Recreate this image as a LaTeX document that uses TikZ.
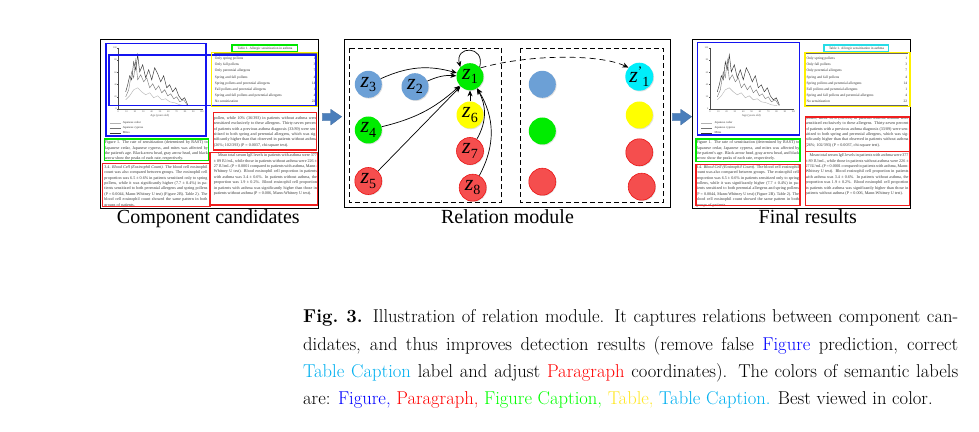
\documentclass[tikz,border=0pt]{standalone}
\usepackage{fontspec}
\usetikzlibrary{arrows.meta,shadows}
\newfontfamily\tnr{Liberation Serif}
\definecolor{nblue}{RGB}{108,160,214}
\definecolor{ngreen}{RGB}{0,236,0}
\definecolor{nred}{RGB}{245,78,78}
\definecolor{nredline}{RGB}{235,20,20}
\definecolor{nyellow}{RGB}{255,255,0}
\definecolor{ncyan}{RGB}{0,238,250}
\definecolor{arrowblue}{RGB}{74,126,187}
\definecolor{capblue}{RGB}{0,0,255}
\definecolor{capred}{RGB}{255,0,0}
\definecolor{capgreen}{RGB}{0,255,0}
\definecolor{capyellow}{RGB}{255,232,40}
\definecolor{capcyan}{RGB}{0,176,240}
\definecolor{boxblue}{RGB}{20,20,240}
\definecolor{boxgreen}{RGB}{0,230,0}
\definecolor{boxyellow}{RGB}{255,240,0}
\definecolor{boxred}{RGB}{240,30,30}
\definecolor{boxcyan}{RGB}{40,220,230}
\tikzset{
  cand/.style={circle, minimum size=27pt, inner sep=0pt, font=\tnr\fontsize{22}{22}\selectfont,
    drop shadow={shadow xshift=0.8pt, shadow yshift=-0.8pt, opacity=0.25}},
  nb/.style={cand, fill=nblue},
  ng/.style={cand, fill=ngreen},
  nr/.style={cand, fill=nred, draw=nredline, line width=0.6pt},
  ny/.style={cand, fill=nyellow},
  nc/.style={cand, fill=ncyan},
  rel/.style={-{Stealth[length=6pt,width=5pt]}, line width=0.7pt, black},
  modbox/.style={dash pattern=on 5pt off 3pt, line width=0.8pt},
  pageframe/.style={line width=1pt, black},
  detbox/.style={line width=1.4pt},
  axisline/.style={line width=0.3pt, black!70},
  ticklab/.style={inner sep=0pt, font=\tnr\fontsize{2.4}{2.4}\selectfont, text=black!70},
  tinytext/.style={inner sep=0pt, font=\tnr\fontsize{3.6}{4.3}\selectfont, text=black!80},
  para/.style={inner sep=0pt, anchor=north west, text width=103pt, align=justify,
    font=\tnr\fontsize{4.1}{5.4}\selectfont, text=black!78},
  plotA/.style={line width=0.45pt, black!80},
  plotB/.style={line width=0.4pt, black!55},
  plotC/.style={line width=0.4pt, black!30},
  panellabel/.style={anchor=base, inner sep=0pt, font=\tnr\fontsize{20}{20}\selectfont},
  capline/.style={anchor=base west, inner sep=0pt, font=\fontsize{18.6}{27}\selectfont},
  blockarrow/.style={fill=arrowblue, draw=arrowblue!85!black, line width=0.3pt}
}
\newcommand\zl[1]{\textit{z}\raisebox{-4.5pt}{\fontsize{14}{14}\selectfont #1}}
\newcommand\zlp[1]{\textit{z}\raisebox{6.5pt}{\fontsize{13}{13}\selectfont\textquoteright}\raisebox{-4.5pt}{\fontsize{14}{14}\selectfont #1}}
\newcommand\docpage[1]{%
\begin{scope}
\clip (0,0) rectangle (218,-168.5);
\draw[axisline] (17.6,-8) -- (17.6,-69.3) -- (101,-69.3);
\foreach \i in {0,...,10}{
  \draw[axisline] ({17.6+8.34*\i},-69.3) -- ++(0,-0.9);
  \pgfmathtruncatemacro\lab{10*\i}
  \node[ticklab, anchor=north] (#1-xt\i) at ({17.6+8.34*\i},-70.6) {\lab};
}
\foreach \i in {0,...,5}{
  \draw[axisline] (17.6,{-69.3+12.26*\i}) -- ++(-0.9,0);
  \pgfmathtruncatemacro\lab{20*\i}
  \node[ticklab, anchor=east] (#1-yt\i) at (16.2,{-69.3+12.26*\i}) {\lab};
}
\node[ticklab, font=\tnr\fontsize{3}{3}\selectfont, anchor=north] (#1-age) at (59,-74.5) {Age (years old)};
\draw[plotA] plot coordinates {(25,-52) (27,-45) (29,-36) (31,-40) (33,-22) (35,-30) (37,-15) (39,-32) (42,-25) (45,-38) (48,-30) (51,-40) (54,-28) (57,-34) (60,-42) (63,-36) (66,-48) (69,-45) (72,-52) (75,-48) (78,-56) (81,-60) (84,-58) (87,-65)};
\draw[plotB] plot coordinates {(25,-57) (28,-50) (31,-32) (33,-38) (35,-20) (37,-40) (40,-35) (43,-42) (46,-38) (49,-48) (52,-44) (55,-50) (58,-46) (61,-53) (64,-50) (67,-56) (70,-54) (73,-59) (76,-57) (79,-62) (83,-60) (87,-66)};
\draw[plotC] plot coordinates {(25,-60) (29,-56) (33,-50) (37,-48) (41,-52) (45,-55) (49,-53) (53,-58) (57,-56) (61,-60) (65,-59) (69,-62) (74,-63) (79,-65) (85,-66)};
\draw[plotC] (9,-83) -- (20,-83);
\node[tinytext, anchor=west, font=\tnr\fontsize{3}{3}\selectfont] (#1-l1) at (22,-83) {Japanese cedar};
\draw[plotB] (9,-88) -- (20,-88);
\node[tinytext, anchor=west, font=\tnr\fontsize{3}{3}\selectfont] (#1-l2) at (22,-88) {Japanese cypress};
\draw[plotA] (9,-93) -- (20,-93);
\node[tinytext, anchor=west, font=\tnr\fontsize{3}{3}\selectfont] (#1-l3) at (22,-93) {Mites};
\node[tinytext, font=\tnr\fontsize{3.4}{3.4}\selectfont] (#1-tt) at (164.3,-8.7) {Table 1. Allergic sensitization in asthma};
\draw[line width=0.3pt, black!60] (113,-13.5) -- (216,-13.5);
\draw[line width=0.3pt, black!60] (113,-65.5) -- (216,-65.5);
\foreach \t/\n [count=\k] in {Only spring pollens/1, Only fall pollens/3, Only perennial allergens/7,
   Spring and fall pollens/4, Spring pollens and perennial allergens/14, Fall pollens and perennial allergens/1,
   Spring and fall pollens and perennial allergens/4, No sensitization/22}{
  \node[tinytext, anchor=base west] (#1-r\k) at (114,{-19.8-6.2*(\k-1)}) {\t};
  \node[tinytext, anchor=base east] (#1-n\k) at (215,{-19.8-6.2*(\k-1)}) {\n};
}
\node[para] (#1-fc) at (4,-100.8) {Figure 1. The rate of sensitization (determined by RAST) to Japanese cedar, Japanese cypress, and mites was affected by the patient's age. Black arrow head, gray arrow head, and black arrow show the peaks of each rate, respectively.};
\node[para] (#1-pl) at (3.5,-125.5) {3.4. \textit{Blood Cell (Eosinophil Count).} The blood cell eosinophil count was also compared between groups. The eosinophil cell proportion was 6.5 ± 0.6\% in patients sensitized only to spring pollens, while it was significantly higher (7.7 ± 0.4\%) in patients sensitized to both perennial allergens and spring pollens (P = 0.0044, Mann-Whitney U test) (Figure 2B). Table 2). The blood cell eosinophil count showed the same pattern in both groups of patients.};
\node[para] (#1-pr1) at (113,-76.5) {pollen, while 10\% (36/393) in patients without asthma were sensitized exclusively to these allergens. Thirty-seven percent of patients with a previous asthma diagnosis (33/89) were sensitized to both spring and perennial allergens, which was significantly higher than that observed in patients without asthma (26\%; 102/393) (P = 0.0037, chi-square test).};
\node[para] (#1-pr2) at (113,-113.8) {\hspace*{1em}Mean total serum IgE levels in patients with asthma were 377 ± 89 IU/mL, while those in patients without asthma were 226 ± 27 IU/mL (P = 0.0001 compared to patients with asthma, Mann-Whitney U test). Blood eosinophil cell proportion in patients with asthma was 3.4 ± 0.6\%. In patients without asthma, the proportion was 1.9 ± 0.2\%. Blood eosinophil cell proportion in patients with asthma was significantly higher than those in patients without asthma (P = 0.006, Mann-Whitney U test).};
\end{scope}
\draw[pageframe] (0,0) rectangle (218,-168.5);
}
\begin{document}
\begin{tikzpicture}[x=1pt,y=1pt]
\useasboundingbox (0,0) rectangle (979,431);
\fill[white] (0,0) rectangle (979,431);

% ---------- left page: component candidates ----------
\begin{scope}[shift={(100.7,391.2)}]
\docpage{L}
\end{scope}
\draw[detbox, boxblue] (106,387.7) rectangle (206,295);
\draw[detbox, boxblue] (109,376) rectangle (316,325.3);
\draw[detbox, boxgreen] (232,386) rectangle (297.3,379.3);
\draw[detbox, boxyellow] (211.7,378.7) rectangle (317.7,324.3);
\draw[detbox, boxgreen] (104.3,292) rectangle (208.3,270.3);
\draw[detbox, boxred] (102.3,267.7) rectangle (210,224.5);
\draw[detbox, boxred] (213.3,318.7) rectangle (316.3,281);
\draw[detbox, boxred] (210,278.7) rectangle (317.7,226);
\node[panellabel] (labL) at (208.3,207) {Component candidates};

% ---------- block arrows ----------
\draw[blockarrow] (322.3,317.7) -- (330.7,317.7) -- (330.7,321.7) -- (341.7,314.3) -- (330.7,306) -- (330.7,310.3) -- (322.3,310.3) -- cycle;
\draw[blockarrow] (672.3,317.7) -- (680.7,317.7) -- (680.7,321.7) -- (691.7,314.3) -- (680.7,306) -- (680.7,310.3) -- (672.3,310.3) -- cycle;

% ---------- relation module ----------
\draw[line width=1pt] (344.7,391) rectangle (670.7,223);
\draw[modbox] (349.3,382.7) rectangle (501.7,228.3);
\draw[modbox] (520.7,382.7) rectangle (663.3,228.3);

\node[ng] (z1) at (470,354.3) {\zl{1}};
\node[nb] (z2) at (415,344.3) {\zl{2}};
\node[nb] (z3) at (368.3,346.7) {\zl{3}};
\node[ng] (z4) at (368.3,301) {\zl{4}};
\node[nr] (z5) at (368.3,250) {\zl{5}};
\node[ny] (z6) at (470,316) {\zl{6}};
\node[nr] (z7) at (470,280) {\zl{7}};
\node[nr] (z8) at (472.7,243.3) {\zl{8}};

\draw[rel] (z3) to[bend left=20] (z1);
\draw[rel] (z2) to[bend left=14] (z1);
\draw[rel] (z4) to[bend right=14] (z1);
\draw[rel] (z5) -- (z1);
\draw[rel] (z6) -- (z1);
\draw[rel] (z7) to[bend right=30] (z1);
\draw[rel] (z8) to[bend right=30] (z1);
\draw[rel] (z1.45) to[out=75,in=105,looseness=3] (z1.135);

\node[nb] (o2) at (542.3,346.7) {};
\node[ng] (o4) at (542.3,300) {};
\node[nr] (o5) at (542.3,249.3) {};
\node[nc] (o1) at (639.3,354.3) {\zlp{1}};
\node[ny] (o6) at (639.3,316) {};
\node[nr] (o7) at (639.3,278.7) {};
\node[nr] (o8) at (641.7,244.3) {};

\draw[rel, dash pattern=on 6pt off 4pt] (z1.40) .. controls (530,377) and (600,377) .. (o1.140);
\node[panellabel] (labM) at (507.5,207) {Relation module};

% ---------- right page: final results ----------
\begin{scope}[shift={(692.3,391.2)}]
\docpage{R}
\end{scope}
\draw[detbox, boxblue] (697.3,388.7) rectangle (799.3,296);
\draw[detbox, boxcyan] (824,386) rectangle (888.7,379.3);
\draw[detbox, boxyellow] (805,378.7) rectangle (910,324.7);
\draw[detbox, boxgreen] (696,292) rectangle (800,269.3);
\draw[detbox, boxred] (696,266.7) rectangle (800,225.3);
\draw[detbox, boxred] (805.7,314) rectangle (909.3,279.3);
\draw[detbox, boxred] (805.7,279.3) rectangle (909.3,225.3);
\node[panellabel] (labR) at (807.8,207) {Final results};

% ---------- caption ----------
\node[capline] (cap1) at (303,108) {\makebox[655pt][s]{\textbf{Fig.~3.} Illustration of relation module. It captures relations between component can-}};
\node[capline] (cap2) at (303,81) {\makebox[655pt][s]{didates, and thus improves detection results (remove false \textcolor{capblue}{Figure} prediction, correct}};
\node[capline] (cap3) at (303,54) {\makebox[655pt][s]{\textcolor{capcyan}{Table Caption} label and adjust \textcolor{capred}{Paragraph} coordinates). The colors of semantic labels}};
\node[capline] (cap4) at (303,27) {are: \textcolor{capblue}{Figure,} \textcolor{capred}{Paragraph,} \textcolor{capgreen}{Figure Caption,} \textcolor{capyellow}{Table,} \textcolor{capcyan}{Table Caption.} Best viewed in color.};
\end{tikzpicture}
\end{document}
